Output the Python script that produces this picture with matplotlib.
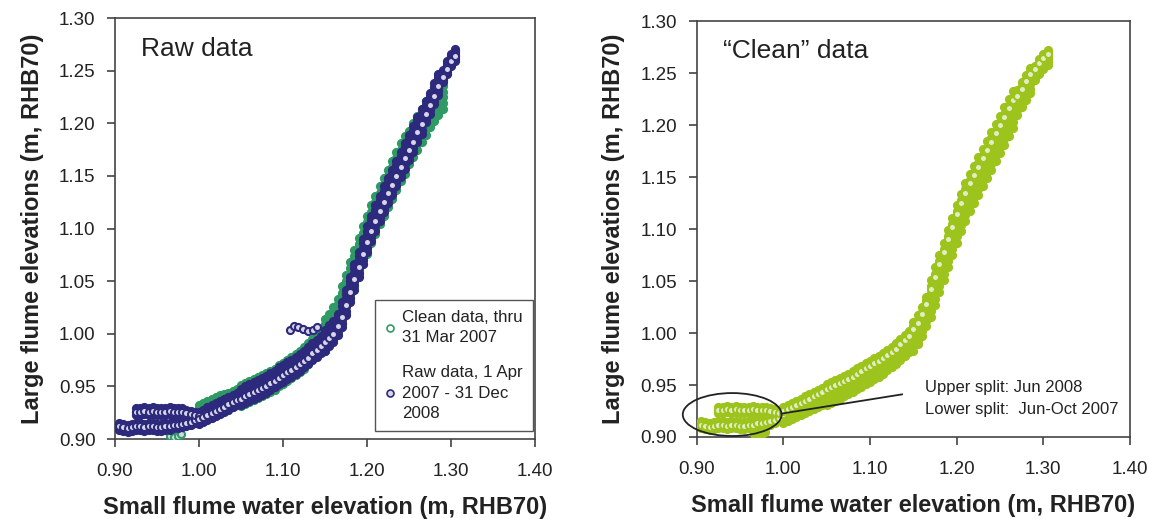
import matplotlib.pyplot as plt
from matplotlib.patches import Ellipse
from matplotlib.lines import Line2D

plt.rcParams['font.family'] = ['Liberation Sans', 'DejaVu Sans']

# main curve, x positions of the readings (small flume, m RHB70)
curve_x = [1.000, 1.005, 1.010, 1.015, 1.020, 1.025, 1.030, 1.035, 1.040, 1.045,
           1.050, 1.055, 1.060, 1.065, 1.070, 1.075, 1.080, 1.085, 1.090, 1.095,
           1.100, 1.105, 1.110, 1.115, 1.120, 1.125, 1.130, 1.135, 1.140, 1.145,
           1.150, 1.155, 1.160, 1.165, 1.170, 1.175, 1.180, 1.185, 1.190, 1.195,
           1.200, 1.205, 1.210, 1.215, 1.220, 1.225, 1.230, 1.235, 1.240, 1.245,
           1.250, 1.255, 1.260, 1.265, 1.270, 1.275, 1.280, 1.285, 1.290, 1.295,
           1.300, 1.305]

# raw data 1 Apr 2007 - 31 Dec 2008: band centre and half width
raw_y = [0.920, 0.922, 0.924, 0.926, 0.928, 0.930, 0.932, 0.934, 0.936, 0.938,
         0.940, 0.942, 0.944, 0.946, 0.948, 0.950, 0.952, 0.955, 0.957, 0.960,
         0.962, 0.965, 0.967, 0.970, 0.973, 0.976, 0.979, 0.983, 0.986, 0.990,
         0.994, 0.998, 1.002, 1.009, 1.018, 1.030, 1.042, 1.054, 1.066, 1.078,
         1.090, 1.100, 1.110, 1.119, 1.128, 1.136, 1.144, 1.152, 1.161, 1.169,
         1.177, 1.185, 1.194, 1.202, 1.211, 1.219, 1.228, 1.237, 1.245, 1.253,
         1.260, 1.265]
raw_hw = [0.006] * 10 + [0.008] * 20 + [0.010] * 4 + [0.012] * 20 + [0.010] * 4 + [0.006] * 4

# clean data thru 31 Mar 2007 (left panel), up to x = 1.29
early_y = [0.924, 0.926, 0.928, 0.930, 0.932, 0.934, 0.935, 0.936, 0.938, 0.940,
           0.941, 0.943, 0.945, 0.947, 0.949, 0.951, 0.953, 0.955, 0.957, 0.960,
           0.962, 0.965, 0.968, 0.971, 0.974, 0.977, 0.981, 0.985, 0.990, 0.994,
           0.999, 1.004, 1.010, 1.018, 1.027, 1.038, 1.050, 1.062, 1.073, 1.084,
           1.094, 1.104, 1.113, 1.122, 1.130, 1.138, 1.146, 1.155, 1.163, 1.170,
           1.177, 1.184, 1.191, 1.198, 1.205, 1.212, 1.218, 1.224, 1.230]
early_hw = [0.008] * 10 + [0.010] * 20 + [0.015] * 4 + [0.018] * 16 + [0.016] * 9

# clean data (right panel), band centre and half width
clean_y = [0.921, 0.923, 0.925, 0.927, 0.929, 0.931, 0.933, 0.935, 0.937, 0.939,
           0.941, 0.943, 0.945, 0.947, 0.949, 0.951, 0.953, 0.956, 0.958, 0.961,
           0.963, 0.966, 0.968, 0.971, 0.974, 0.977, 0.980, 0.984, 0.988, 0.992,
           0.997, 1.003, 1.011, 1.021, 1.033, 1.045, 1.057, 1.069, 1.081, 1.093,
           1.105, 1.116, 1.126, 1.135, 1.143, 1.151, 1.159, 1.167, 1.175, 1.183,
           1.191, 1.199, 1.207, 1.215, 1.222, 1.229, 1.236, 1.243, 1.250, 1.256,
           1.261, 1.265]
clean_hw = [0.008] * 10 + [0.010] * 20 + [0.014] * 4 + [0.018] * 20 + [0.012] * 4 + [0.007] * 4

# low-stage split (two branches)
split_lo_x = [0.905, 0.910, 0.915, 0.920, 0.925, 0.930, 0.935, 0.940, 0.945, 0.950,
              0.955, 0.960, 0.965, 0.970, 0.975, 0.980, 0.985, 0.990, 0.995]
split_lo_y = [0.912, 0.911, 0.910, 0.911, 0.912, 0.912, 0.911, 0.912, 0.912, 0.911,
              0.911, 0.912, 0.912, 0.913, 0.913, 0.914, 0.915, 0.916, 0.918]
split_up_x = [0.925, 0.930, 0.935, 0.940, 0.945, 0.950, 0.955, 0.960, 0.965, 0.970,
              0.975, 0.980, 0.985, 0.990, 0.995, 1.000]
split_up_y = [0.926, 0.926, 0.927, 0.926, 0.927, 0.926, 0.926, 0.926, 0.927, 0.926,
              0.926, 0.926, 0.925, 0.924, 0.923, 0.922]

# odd raw points near 1.00
raw_odd_x = [1.108, 1.113, 1.118, 1.124, 1.130, 1.136, 1.140]
raw_odd_y = [1.004, 1.007, 1.006, 1.005, 1.003, 1.004, 1.006]

# clean data stragglers
clean_odd_x = [0.900, 0.966, 0.970, 0.975, 0.979]
clean_odd_y = [0.912, 0.903, 0.902, 0.903, 0.905]

green = '#2f9a63'
navy = '#2d2a7d'
lime = '#9dc41c'
navy_face = '#d6d6e6'
lime_face = '#e2edc6'
ink = '#222222'

TRACKS = (-1.0, -0.67, -0.33, 0.0, 0.33, 0.67, 1.0)


def band_points(x, y, hw, tracks=TRACKS):
    px, py = [], []
    for xi, c, h in zip(x, y, hw):
        for k in tracks:
            px.append(xi)
            py.append(c + k * h)
    return px, py


def split_points(offsets=(-0.003, 0.0, 0.003)):
    px, py = [], []
    for xs, ys in ((split_lo_x, split_lo_y), (split_up_x, split_up_y)):
        for xi, c in zip(xs, ys):
            for dy in offsets:
                px.append(xi)
                py.append(c + dy)
    return px, py


def dots(ax, x, y, color, face, z=3):
    ax.scatter(x, y, s=26, facecolor=face, edgecolor=color, linewidth=1.5, zorder=z)


def style(ax):
    ax.set_xlim(0.9, 1.4)
    ax.set_ylim(0.9, 1.3)
    ax.set_xticks([0.9, 1.0, 1.1, 1.2, 1.3, 1.4])
    ax.set_yticks([0.90, 0.95, 1.00, 1.05, 1.10, 1.15, 1.20, 1.25, 1.30])
    ax.xaxis.set_major_formatter(plt.FormatStrFormatter('%.2f'))
    ax.yaxis.set_major_formatter(plt.FormatStrFormatter('%.2f'))
    ax.tick_params(direction='out', length=6, width=1.1, labelsize=13.5,
                   colors='#333333', labelcolor=ink)
    ax.tick_params(axis='x', pad=11)
    ax.tick_params(axis='y', pad=8)
    for sp in ax.spines.values():
        sp.set_color('#444444')
        sp.set_linewidth(1.2)
    ax.set_xlabel('Small flume water elevation (m, RHB70)', fontsize=17,
                  fontweight='bold', color=ink, labelpad=12)
    ax.set_ylabel('Large flume elevations (m, RHB70)', fontsize=17,
                  fontweight='bold', color=ink, labelpad=11)


fig = plt.figure(figsize=(11.49, 5.19), dpi=100)
ax1 = fig.add_axes([0.1001, 0.1541, 0.3655, 0.8112])
ax2 = fig.add_axes([0.6063, 0.1580, 0.3772, 0.8015])

# left: raw vs clean
gx, gy = band_points(curve_x[:59], early_y, early_hw)
dots(ax1, gx, gy, green, green)
dots(ax1, clean_odd_x, clean_odd_y, green, navy_face)
rx, ry = band_points(curve_x, raw_y, raw_hw)
sx, sy = split_points()
dots(ax1, sx + rx, sy + ry, navy, navy)
lx, ly = band_points(curve_x, raw_y, raw_hw, tracks=(-0.2,))
tx, ty = split_points(offsets=(0.0,))
dots(ax1, tx + lx, ty + ly, navy, navy_face)
dots(ax1, raw_odd_x, raw_odd_y, navy, navy_face, z=4)
style(ax1)
ax1.text(0.931, 1.271, 'Raw data', fontsize=19, color=ink, va='center')

handles = [Line2D([], [], linestyle='none', marker='o', markersize=5, mfc='white',
                  mec=green, mew=1.2),
           Line2D([], [], linestyle='none', marker='o', markersize=5, mfc=navy_face,
                  mec=navy, mew=1.2)]
leg = ax1.legend(handles, ['Clean data, thru\n31 Mar 2007', 'Raw data, 1 Apr\n2007 - 31 Dec\n2008'],
                 loc='lower right', bbox_to_anchor=(0.995, 0.018), fontsize=12.2,
                 frameon=True, fancybox=False, edgecolor='#555555', framealpha=1,
                 handlelength=0.6, handletextpad=0.4, labelspacing=1.2,
                 borderpad=0.6, borderaxespad=0)
leg.get_frame().set_linewidth(1.0)
for t in leg.get_texts():
    t.set_color(ink)
    t.set_linespacing(1.45)

# right: clean data
cx, cy = band_points(curve_x, clean_y, clean_hw)
dots(ax2, sx + clean_odd_x[1:] + cx, sy + clean_odd_y[1:] + cy, lime, lime)
kx, ky = band_points(curve_x, clean_y, clean_hw, tracks=(0.5,))
dots(ax2, tx + kx, ty + ky, lime, lime_face)
style(ax2)
ax2.text(0.93, 1.271, '\u201cClean\u201d data', fontsize=19, color=ink, va='center')
ax2.add_patch(Ellipse((0.941, 0.9216), 0.114, 0.0413, fill=False, edgecolor=ink,
                      linewidth=1.3, zorder=5, clip_on=False))
ax2.plot([0.998, 1.137], [0.9225, 0.941], color=ink, linewidth=1.3, zorder=5)
ax2.text(1.163, 0.948, 'Upper split: Jun 2008', fontsize=12, color=ink, va='center')
ax2.text(1.163, 0.926, 'Lower split:  Jun-Oct 2007', fontsize=12, color=ink, va='center')

fig.savefig('out.png', dpi=100)
